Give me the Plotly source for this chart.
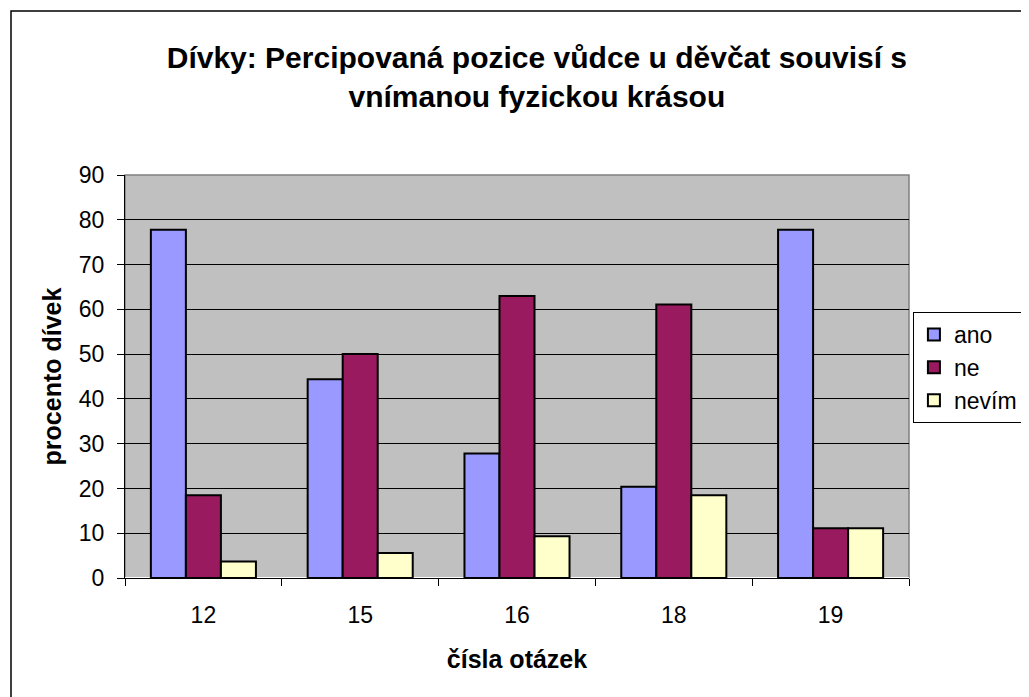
import plotly.graph_objects as go

categories = ["12", "15", "16", "18", "19"]
ano = [77.8, 44.4, 27.8, 20.4, 77.8]
ne = [18.5, 50.0, 63.0, 61.1, 11.1]
nevim = [3.7, 5.6, 9.3, 18.5, 11.1]

series = [("ano", ano, "#9999FF"), ("ne", ne, "#9A1A60"), ("nevím", nevim, "#FFFFCC")]

font = "Liberation Sans, Arial, sans-serif"
fig = go.Figure()
for name, vals, col in series:
    fig.add_trace(go.Bar(x=categories, y=vals, name=name,
                         marker=dict(color=col, line=dict(color="black", width=2))))

fig.update_layout(
    width=1021, height=689,
    margin=dict(l=117, r=120, t=167, b=119, autoexpand=False),
    paper_bgcolor="white", plot_bgcolor="#C0C0C0",
    barmode="group", bargap=0.33, bargroupgap=0,
    font=dict(family=font, size=23, color="black"),
    title=dict(text="<b>Dívky: Percipovaná pozice vůdce u děvčat souvisí s<br>vnímanou fyzickou krásou</b>",
               x=0.518, xanchor="center", y=0.9125, yanchor="middle",
               font=dict(size=30, family=font)),
    legend=dict(x=1.005, y=0.66, xanchor="left", yanchor="top",
                bordercolor="black", borderwidth=1, bgcolor="white",
                font=dict(size=23), itemwidth=30, tracegroupgap=0),
    showlegend=True,
)
fig.update_xaxes(type="category", showline=True, linecolor="black", linewidth=1,
                 ticks="outside", tickson="boundaries", ticklen=7, tickcolor="black",
                 ticklabelstandoff=16,
                 title=dict(text="<b>čísla otázek</b>", font=dict(size=25), standoff=23))
fig.update_yaxes(range=[0, 90], dtick=10, showline=True, linecolor="black", linewidth=1,
                 ticks="outside", ticklen=7, tickcolor="black", ticklabelstandoff=8,
                 showgrid=True, gridcolor="black", gridwidth=1,
                 title=dict(text="<b>procento dívek</b>", font=dict(size=25), standoff=10))

# plot-area border (grey top/right) and outer chart border
fig.add_shape(type="rect", xref="paper", yref="paper", x0=0, x1=1, y0=0, y1=1,
              line=dict(color="#808080", width=1.5), layer="below")
fig.add_shape(type="rect", xref="paper", yref="paper", x0=-0.1454, x1=1.2, y0=-0.4, y1=1.407,
              line=dict(color="black", width=1.5))

fig.write_html("out.html")
